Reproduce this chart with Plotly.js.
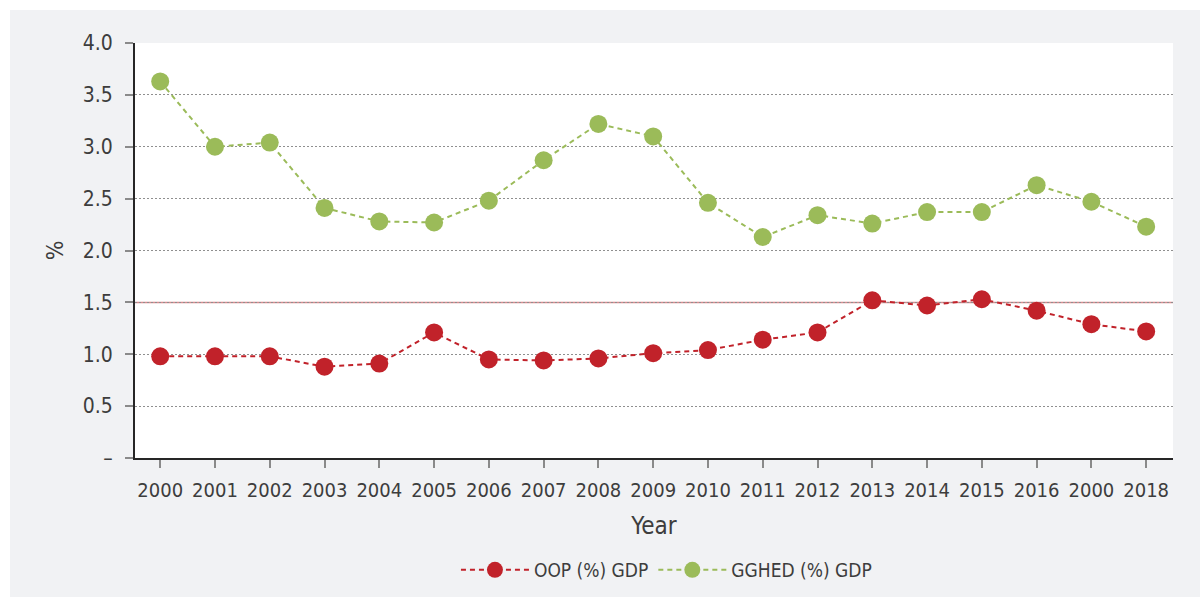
<!DOCTYPE html>
<html>
<head>
<meta charset="utf-8">
<script src="https://cdn.plot.ly/plotly-3.0.1.min.js"></script>
<style>
  html, body { margin: 0; padding: 0; background: #ffffff; }
  #chart { position: absolute; left: 10px; top: 10px; width: 1190px; height: 587px; }
</style>
</head>
<body>
<div id="chart"></div>
<script>
// Data
const yearLabels = ["2000","2001","2002","2003","2004","2005","2006","2007","2008","2009",
                    "2010","2011","2012","2013","2014","2015","2016","2000","2018"];
const oopGdp   = [0.98, 0.98, 0.98, 0.88, 0.91, 1.21, 0.95, 0.94, 0.96, 1.01,
                  1.04, 1.14, 1.21, 1.52, 1.47, 1.53, 1.42, 1.29, 1.22];
const gghedGdp = [3.63, 3.00, 3.04, 2.41, 2.28, 2.27, 2.48, 2.87, 3.22, 3.10,
                  2.46, 2.13, 2.34, 2.26, 2.37, 2.37, 2.63, 2.47, 2.23];
const yTickVals  = [0, 0.5, 1.0, 1.5, 2.0, 2.5, 3.0, 3.5, 4.0];
const yTickTexts = ["–", "0.5", "1.0", "1.5", "2.0", "2.5", "3.0", "3.5", "4.0"];
const referenceLevel = 1.5;

const xIdx = yearLabels.map((_, i) => i);
const FONT = "'DejaVu Sans Condensed', 'Liberation Sans Narrow', 'Open Sans', sans-serif";
const TXT = "#3d3d3d";
const RED = "#c1222a";
const GREEN = "#9bbb59";

const traces = [
  {
    x: xIdx, y: oopGdp, name: "OOP (%) GDP", type: "scatter", mode: "lines+markers",
    line: { color: RED, width: 2, dash: "5px,4px" },
    marker: { color: RED, size: 18 }
  },
  {
    x: xIdx, y: gghedGdp, name: "GGHED (%) GDP", type: "scatter", mode: "lines+markers",
    line: { color: GREEN, width: 2, dash: "5px,4px" },
    marker: { color: GREEN, size: 18 }
  }
];

const layout = {
  width: 1190, height: 587,
  paper_bgcolor: "#f1f2f4",
  plot_bgcolor: "#ffffff",
  margin: { l: 125, r: 27, t: 33, b: 139, autoexpand: false },
  font: { family: FONT, color: TXT, size: 19 },
  showlegend: true,
  legend: {
    orientation: "h", xref: "paper", x: 0.512, xanchor: "center",
    yref: "container", y: 0.046, yanchor: "middle",
    font: { family: FONT, size: 19, color: TXT },
    bgcolor: "rgba(0,0,0,0)", itemwidth: 68, tracegroupgap: 0
  },
  xaxis: {
    range: [-0.46, 18.49],
    tickmode: "array", tickvals: xIdx, ticktext: yearLabels,
    ticks: "outside", ticklen: 8, tickwidth: 2, tickcolor: "#8a8a8a",
    ticklabelstandoff: 5,
    showgrid: false, zeroline: false,
    showline: true, linecolor: "#262626", linewidth: 2,
    tickfont: { family: FONT, size: 20, color: TXT },
    title: { text: "Year", font: { family: FONT, size: 24, color: TXT }, standoff: 16 }
  },
  yaxis: {
    range: [0, 4.0],
    tickmode: "array", tickvals: yTickVals, ticktext: yTickTexts,
    ticks: "outside", ticklen: 8, tickwidth: 2, tickcolor: "#8a8a8a",
    ticklabelstandoff: 8,
    showgrid: true, gridcolor: "#8f8f8f", gridwidth: 1, griddash: "2px,2px",
    zeroline: false,
    showline: true, linecolor: "#262626", linewidth: 2,
    tickfont: { family: FONT, size: 21, color: TXT },
    title: { text: "%", font: { family: FONT, size: 23, color: TXT }, standoff: 13 }
  },
  shapes: [
    {
      type: "line", xref: "paper", x0: 0, x1: 1, yref: "y", y0: referenceLevel, y1: referenceLevel,
      line: { color: "#d98a8e", width: 1.5 }, layer: "below"
    }
  ]
};

Plotly.newPlot("chart", traces, layout, { displayModeBar: false, staticPlot: true });
</script>
</body>
</html>
